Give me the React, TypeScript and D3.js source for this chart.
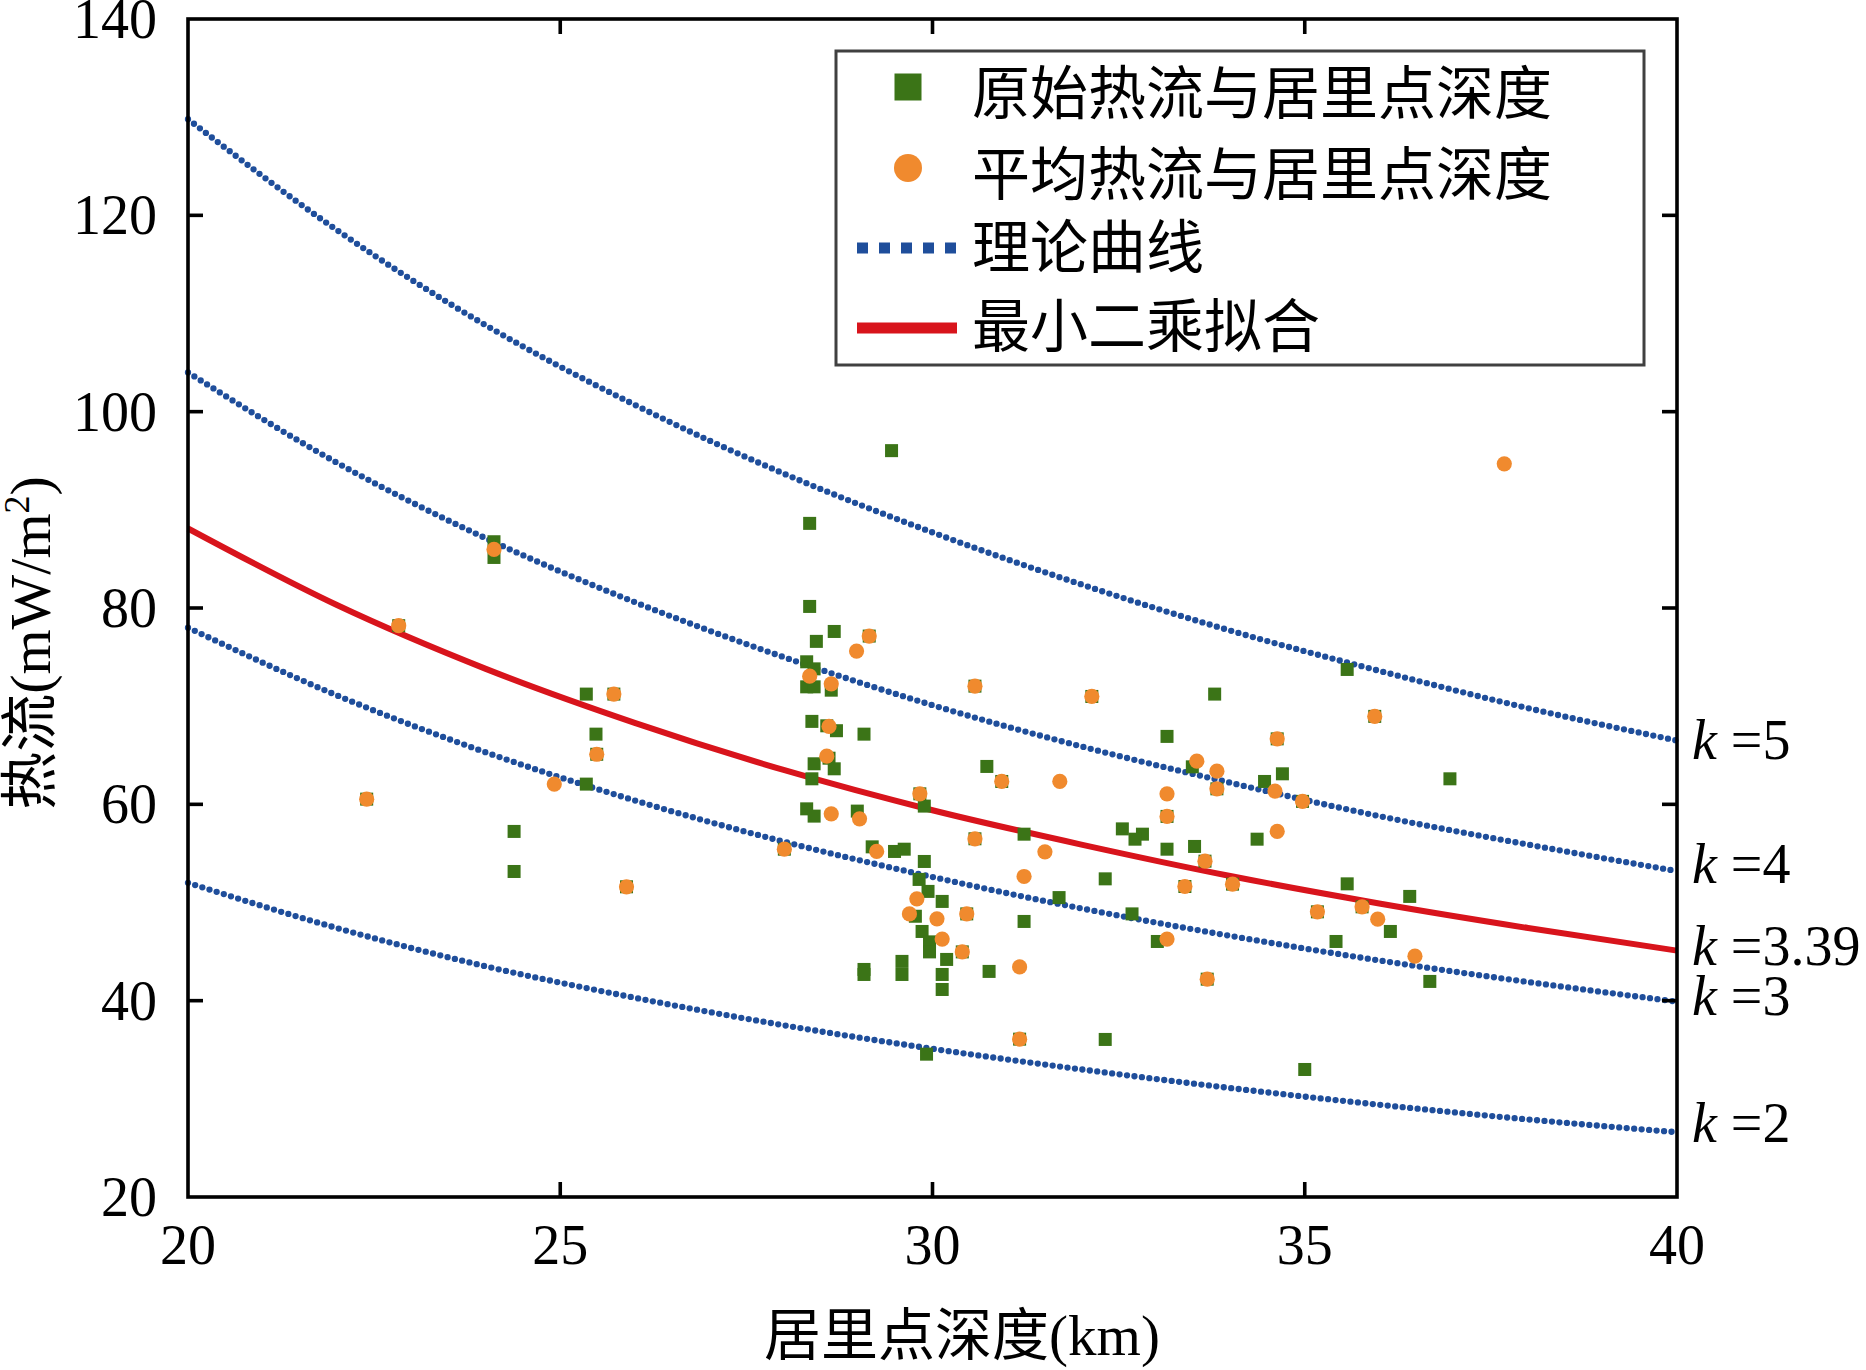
import React from 'react';
import * as d3 from 'd3';

// Curie depth (km) / heat flow (mW/m2)
const rawDepth = [
  24.11, 24.11, 22.83, 25.35, 25.72, 25.48, 25.49, 25.35, 22.4, 24.38, 24.38, 25.89,
  28.35, 28.35, 28.68, 28.44, 29.15, 28.31, 28.41, 28.31, 28.41, 28.64, 30.57, 28.38,
  28.58, 28.71, 29.08, 28.41, 28.61, 28.68, 28.38, 30.73, 30.93, 29.83, 29.89, 28.31,
  28.41, 28.99, 30.57, 31.23, 28.01, 29.19, 29.49, 29.62, 29.89, 29.82, 29.94, 30.13,
  31.7, 29.77, 30.46, 31.23, 29.86, 29.96, 29.96, 30.4, 30.19, 29.08, 29.08, 29.59,
  29.59, 30.13, 30.13, 30.76, 31.17, 29.92, 29.45, 32.14, 33.79, 33.15, 34.63, 33.49,
  33.82, 34.7, 34.46, 34.97, 33.15, 34.36, 32.55, 32.82, 32.72, 33.15, 33.52, 33.66,
  32.32, 33.39, 34.03, 32.68, 35.17, 33.02, 35.42, 33.69, 32.32, 35.0, 35.57, 35.94,
  36.95, 35.57, 36.41, 35.77, 36.15, 36.68,
];
const rawFlow = [
  86.75, 85.15, 78.2, 71.23, 71.23, 67.15, 65.1, 62.06, 60.53, 57.24, 53.16, 51.6,
  88.62, 80.16, 77.61, 76.6, 77.14, 74.52, 73.8, 71.97, 71.97, 71.63, 72.04, 68.45,
  68.0, 67.5, 67.15, 64.13, 64.7, 63.62, 62.6, 63.86, 62.33, 61.07, 59.82, 59.54,
  58.8, 59.31, 56.49, 56.96, 55.43, 55.67, 55.2, 55.43, 54.18, 52.35, 51.13, 50.11,
  50.5, 48.6, 48.84, 48.07, 47.05, 45.99, 44.97, 44.97, 44.2, 43.18, 42.67, 44.0,
  42.67, 42.67, 41.14, 42.98, 36.08, 34.55, 96.03, 70.99, 71.23, 66.92, 66.67, 63.82,
  61.58, 63.11, 62.33, 60.3, 58.77, 56.45, 57.5, 56.96, 56.45, 55.43, 55.71, 54.21,
  52.41, 51.63, 51.87, 48.84, 49.05, 46.03, 46.03, 42.19, 36.05, 32.99, 73.74, 68.96,
  62.6, 51.9, 50.62, 49.56, 47.05, 41.96,
];

const avgDepth = [
  24.11, 22.83, 25.72, 25.49, 24.92, 22.4, 25.89, 29.15, 28.98, 28.35, 28.64, 30.57,
  28.61, 28.58, 30.93, 31.71, 29.83, 28.64, 29.02, 30.57, 31.51, 28.01, 29.25, 31.23,
  29.79, 29.69, 30.06, 30.46, 30.13, 30.4, 31.17, 31.17, 32.14, 34.63, 33.55, 33.82,
  33.82, 34.6, 34.97, 33.15, 33.15, 34.63, 33.66, 33.39, 34.03, 35.17, 33.15, 33.69,
  35.94, 35.77, 35.98, 36.48, 37.68,
];
const avgFlow = [
  85.97, 78.2, 71.23, 65.1, 62.06, 60.53, 51.6, 77.14, 75.61, 73.06, 72.28, 72.04,
  67.94, 64.91, 62.33, 62.33, 61.07, 59.03, 58.52, 56.49, 55.16, 55.43, 55.2, 52.65,
  50.37, 48.84, 48.34, 48.84, 46.27, 44.97, 43.44, 36.08, 70.99, 66.67, 64.4, 63.38,
  61.58, 61.35, 60.3, 61.07, 58.77, 57.24, 54.21, 51.63, 51.87, 49.05, 46.27, 42.19,
  68.96, 49.56, 48.3, 44.53, 94.69,
];

// theoretical curves sampled along the depth axis
const curveDepth = [20, 22, 24, 26, 28, 30, 32, 34, 36, 38, 40];
const curveK5 = [129.8, 118.5, 108.8, 100.7, 93.7, 87.7, 82.4, 77.7, 73.6, 69.8, 66.5];
const curveK4 = [104.0, 94.8, 87.1, 80.6, 75.0, 70.1, 65.9, 62.2, 58.8, 55.9, 53.2];
const curveK3 = [78.0, 71.1, 65.3, 60.4, 56.2, 52.6, 49.4, 46.6, 44.1, 41.9, 39.9];
const curveK2 = [52.0, 47.4, 43.5, 40.3, 37.5, 35.1, 33.0, 31.1, 29.4, 27.9, 26.6];
// least squares fit (k = 3.39)
const fitFlow = [88.1, 80.3, 73.8, 68.3, 63.5, 59.4, 55.9, 52.7, 49.9, 47.4, 45.1];

const kLabels = ['5', '4', '3.39', '3', '2'];
const kLabelFlow = [66.6, 53.9, 45.55, 40.46, 27.5];

const xTicks = [20, 25, 30, 35, 40];
const yTicks = [20, 40, 60, 80, 100, 120, 140];

const legendLabels = ['原始热流与居里点深度', '平均热流与居里点深度', '理论曲线', '最小二乘拟合'];

const W = 1866;
const H = 1370;
const left = 188;
const right = 1677;
const top = 19;
const bottom = 1197;

const GREEN = '#3b7417';
const ORANGE = '#f08a2e';
const BLUE = '#1f4e9b';
const RED = '#d8141c';
const FONT = "'Liberation Serif', 'Times New Roman', 'Noto Sans CJK SC', serif";

export default function App() {
  const x = d3.scaleLinear().domain([20, 40]).range([left, right]);
  const y = d3.scaleLinear().domain([20, 140]).range([bottom, top]);

  const line = d3
    .line<number>()
    .x((_, i) => x(curveDepth[i]))
    .y(d => y(d))
    .curve(d3.curveMonotoneX);

  const theory = [curveK5, curveK4, curveK3, curveK2];
  const sq = 13;
  const tick = 15;

  return (
    <svg
      width={W}
      height={H}
      style={{ position: 'absolute', left: 0, top: 0, background: '#fff' }}
      fontFamily={FONT}
    >
      <rect x={0} y={0} width={W} height={H} fill="#fff" />

      {/* theoretical curves */}
      {theory.map((c, i) => (
        <path
          key={i}
          d={line(c) ?? ''}
          fill="none"
          stroke={BLUE}
          strokeWidth={6.3}
          strokeLinecap="round"
          strokeDasharray="0 7.5"
        />
      ))}
      <path d={line(fitFlow) ?? ''} fill="none" stroke={RED} strokeWidth={6} />

      {/* original data */}
      {rawDepth.map((d, i) => (
        <rect
          key={'g' + i}
          x={x(d) - sq / 2}
          y={y(rawFlow[i]) - sq / 2}
          width={sq}
          height={sq}
          fill={GREEN}
        />
      ))}
      {/* averaged data */}
      {avgDepth.map((d, i) => (
        <circle key={'o' + i} cx={x(d)} cy={y(avgFlow[i])} r={7.6} fill={ORANGE} />
      ))}

      {/* frame and ticks */}
      <rect
        x={left}
        y={top}
        width={right - left}
        height={bottom - top}
        fill="none"
        stroke="#000"
        strokeWidth={3.6}
      />
      {xTicks.slice(1, -1).map(t => (
        <g key={'xt' + t}>
          <line x1={x(t)} x2={x(t)} y1={bottom} y2={bottom - tick} stroke="#000" strokeWidth={3.6} />
          <line x1={x(t)} x2={x(t)} y1={top} y2={top + tick} stroke="#000" strokeWidth={3.6} />
        </g>
      ))}
      {yTicks.slice(1, -1).map(t => (
        <g key={'yt' + t}>
          <line x1={left} x2={left + tick} y1={y(t)} y2={y(t)} stroke="#000" strokeWidth={3.6} />
          <line x1={right} x2={right - tick} y1={y(t)} y2={y(t)} stroke="#000" strokeWidth={3.6} />
        </g>
      ))}
      {xTicks.map(t => (
        <text key={'xl' + t} x={x(t)} y={1264} fontSize={56} textAnchor="middle">
          {t}
        </text>
      ))}
      {yTicks.map(t => (
        <text key={'yl' + t} x={157} y={y(t) + 19} fontSize={56} textAnchor="end">
          {t}
        </text>
      ))}

      {/* k labels */}
      {kLabels.map((k, i) => (
        <text key={'k' + k} x={1692} y={y(kLabelFlow[i]) + 19} fontSize={56}>
          <tspan fontStyle="italic">k</tspan>
          <tspan dx={14}>={k}</tspan>
        </text>
      ))}

      {/* axis titles */}
      <text x={962} y={1355} fontSize={57} textAnchor="middle">
        居里点深度(km)
      </text>
      <text
        transform="translate(50,643) rotate(-90)"
        fontSize={58}
        textAnchor="middle"
      >
        热流(mW/m<tspan dy={-21} fontSize={36}>2</tspan>
        <tspan dy={21}>)</tspan>
      </text>

      {/* legend */}
      <rect x={836} y={51} width={808} height={314} fill="#fff" stroke="#404040" strokeWidth={3} />
      <rect x={908 - 13.5} y={87 - 13.5} width={27} height={27} fill={GREEN} />
      <circle cx={908} cy={168} r={14} fill={ORANGE} />
      <line x1={857} x2={962} y1={248} y2={248} stroke={BLUE} strokeWidth={11} strokeDasharray="11 11" />
      <line x1={857} x2={957} y1={328} y2={328} stroke={RED} strokeWidth={11} />
      {legendLabels.map((l, i) => (
        <text key={l} x={972} y={[114, 195, 268, 347][i]} fontSize={58}>
          {l}
        </text>
      ))}
    </svg>
  );
}
